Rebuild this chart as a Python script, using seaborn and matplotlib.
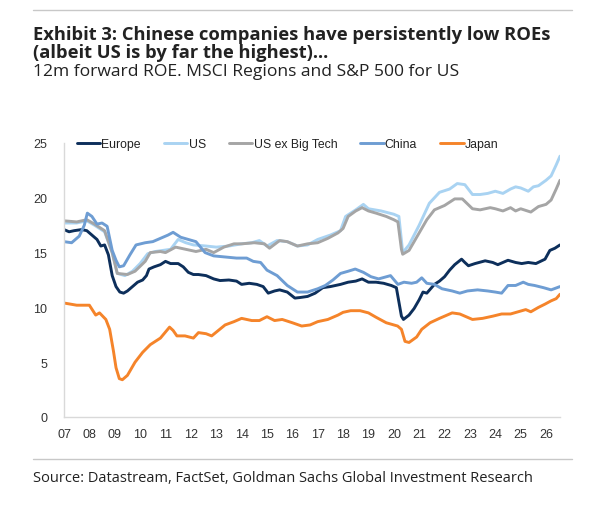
import pandas as pd
import seaborn as sns
import matplotlib.pyplot as plt

# series: (year, ROE %)
europe_t = [2007.0, 2007.2, 2007.4, 2007.7, 2007.9, 2008.1, 2008.3, 2008.45, 2008.6, 2008.75, 2008.9,
            2009.05, 2009.2, 2009.35, 2009.5, 2009.7, 2009.9, 2010.1, 2010.25, 2010.35, 2010.55, 2010.8,
            2011.0, 2011.2, 2011.5, 2011.7, 2011.9, 2012.1, 2012.3, 2012.6, 2012.9, 2013.15, 2013.5,
            2013.8, 2014.0, 2014.3, 2014.6, 2014.85, 2015.05, 2015.3, 2015.5, 2015.8, 2016.1, 2016.3,
            2016.6, 2016.9, 2017.2, 2017.5, 2017.9, 2018.2, 2018.5, 2018.75, 2019.0, 2019.3, 2019.6,
            2019.9, 2020.1, 2020.2, 2020.3, 2020.38, 2020.6, 2020.8, 2021.0, 2021.15, 2021.3, 2021.6,
            2021.8, 2022.0, 2022.2, 2022.4, 2022.67, 2022.8, 2022.94, 2023.2, 2023.6, 2023.9, 2024.1,
            2024.5, 2024.8, 2025.04, 2025.3, 2025.6, 2025.96, 2026.15, 2026.35, 2026.55]
europe_v = [17.1, 16.9, 17.0, 17.1, 17.0, 16.6, 16.2, 15.6, 15.7, 14.8, 12.9,
            11.9, 11.4, 11.3, 11.5, 11.9, 12.3, 12.5, 12.9, 13.5, 13.7, 13.9,
            14.2, 14.0, 14.0, 13.7, 13.2, 13.0, 13.0, 12.9, 12.6, 12.45, 12.5,
            12.4, 12.1, 12.2, 12.1, 11.9, 11.3, 11.5, 11.6, 11.4, 10.85, 10.9,
            11.0, 11.3, 11.8, 11.9, 12.1, 12.3, 12.4, 12.6, 12.3, 12.3, 12.2,
            12.0, 11.8, 10.5, 9.2, 8.9, 9.3, 9.9, 10.7, 11.4, 11.3, 12.1,
            12.4, 12.8, 13.4, 13.9, 14.4, 14.1, 13.8, 14.0, 14.25, 14.1, 13.9,
            14.3, 14.1, 14.0, 14.1, 14.0, 14.4, 15.2, 15.4, 15.7]

us_t = [2007.0, 2007.5, 2007.9, 2008.2, 2008.6, 2008.9, 2009.1, 2009.4, 2009.7, 2010.0, 2010.3,
        2010.6, 2010.9, 2011.2, 2011.5, 2011.8, 2012.1, 2012.6, 2013.0, 2013.5, 2014.0, 2014.4,
        2014.7, 2015.0, 2015.4, 2015.8, 2016.2, 2016.6, 2017.0, 2017.5, 2017.9, 2018.1, 2018.5,
        2018.8, 2019.0, 2019.5, 2020.0, 2020.2, 2020.35, 2020.6, 2021.0, 2021.4, 2021.8, 2022.2,
        2022.5, 2022.8, 2023.1, 2023.4, 2023.7, 2024.0, 2024.3, 2024.6, 2024.8, 2025.0, 2025.3,
        2025.5, 2025.7, 2026.0, 2026.2, 2026.4, 2026.55]
us_v = [17.7, 17.7, 17.9, 17.5, 16.9, 15.0, 13.1, 12.9, 13.3, 14.0, 14.9,
        15.1, 15.2, 15.3, 16.2, 15.9, 15.7, 15.6, 15.5, 15.6, 15.8, 15.9,
        16.1, 15.6, 16.1, 16.0, 15.6, 15.7, 16.2, 16.6, 17.0, 18.3, 18.9,
        19.4, 19.0, 18.8, 18.5, 18.3, 15.0, 15.7, 17.5, 19.5, 20.5, 20.8,
        21.3, 21.2, 20.3, 20.3, 20.4, 20.6, 20.4, 20.8, 21.0, 20.9, 20.6,
        21.0, 21.1, 21.6, 22.0, 23.0, 23.8]

usx_t = [2007.0, 2007.5, 2007.9, 2008.2, 2008.6, 2008.9, 2009.1, 2009.5, 2009.8, 2010.2, 2010.4,
         2010.8, 2011.0, 2011.4, 2011.8, 2012.2, 2012.6, 2012.9, 2013.3, 2013.7, 2014.0, 2014.5,
         2014.9, 2015.1, 2015.5, 2015.8, 2016.2, 2016.6, 2017.0, 2017.4, 2017.8, 2018.0, 2018.2,
         2018.5, 2018.75, 2019.0, 2019.3, 2019.7, 2020.0, 2020.16, 2020.3, 2020.35, 2020.6, 2021.0,
         2021.3, 2021.6, 2022.0, 2022.4, 2022.7, 2023.1, 2023.4, 2023.8, 2024.0, 2024.3, 2024.6,
         2024.8, 2025.0, 2025.4, 2025.7, 2026.0, 2026.2, 2026.4, 2026.55]
usx_v = [17.9, 17.8, 18.0, 17.6, 17.0, 15.0, 13.1, 13.0, 13.3, 14.2, 15.0,
         15.1, 15.0, 15.5, 15.3, 15.1, 15.3, 15.0, 15.5, 15.8, 15.8, 15.9,
         15.8, 15.4, 16.1, 16.0, 15.6, 15.8, 15.9, 16.3, 16.8, 17.2, 18.3,
         18.8, 19.1, 18.8, 18.6, 18.3, 18.0, 17.8, 15.3, 14.85, 15.2, 16.8,
         18.0, 18.9, 19.3, 19.9, 19.9, 19.0, 18.9, 19.1, 19.0, 18.8, 19.1,
         18.8, 19.0, 18.7, 19.2, 19.4, 19.8, 20.8, 21.6]

china_t = [2007.0, 2007.3, 2007.6, 2007.8, 2007.92, 2008.1, 2008.3, 2008.5, 2008.7, 2008.9, 2009.05,
           2009.18, 2009.35, 2009.6, 2009.84, 2010.2, 2010.5, 2010.8, 2011.1, 2011.3, 2011.6, 2011.9,
           2012.2, 2012.56, 2012.9, 2013.35, 2013.8, 2014.2, 2014.46, 2014.75, 2015.0, 2015.4, 2015.8,
           2016.2, 2016.6, 2017.0, 2017.3, 2017.6, 2017.9, 2018.2, 2018.48, 2018.8, 2019.1, 2019.4,
           2019.87, 2020.16, 2020.4, 2020.7, 2020.9, 2021.1, 2021.3, 2021.6, 2021.9, 2022.3, 2022.6,
           2022.9, 2023.3, 2023.7, 2024.0, 2024.25, 2024.5, 2024.8, 2025.1, 2025.3, 2025.55, 2025.9,
           2026.2, 2026.55]
china_v = [16.0, 15.9, 16.5, 17.5, 18.6, 18.3, 17.6, 17.7, 17.4, 15.2, 14.3,
           13.7, 13.8, 14.8, 15.7, 15.9, 16.0, 16.3, 16.6, 16.85, 16.4, 16.2,
           16.0, 15.0, 14.7, 14.6, 14.5, 14.5, 14.2, 14.1, 13.4, 12.9, 12.0,
           11.4, 11.4, 11.7, 12.0, 12.5, 13.1, 13.3, 13.5, 13.2, 12.8, 12.6,
           12.9, 12.1, 12.3, 12.2, 12.3, 12.7, 12.2, 12.1, 11.7, 11.5, 11.3,
           11.5, 11.6, 11.5, 11.4, 11.3, 12.0, 12.0, 12.3, 12.1, 12.0, 11.8,
           11.6, 11.9]

japan_t = [2007.0, 2007.5, 2008.0, 2008.25, 2008.4, 2008.65, 2008.8, 2008.95, 2009.05, 2009.18, 2009.3,
           2009.5, 2009.8, 2010.1, 2010.4, 2010.8, 2011.16, 2011.3, 2011.45, 2011.77, 2012.1, 2012.3,
           2012.6, 2012.82, 2013.35, 2013.7, 2014.0, 2014.4, 2014.7, 2015.0, 2015.3, 2015.6, 2016.0,
           2016.37, 2016.7, 2017.0, 2017.4, 2017.8, 2018.0, 2018.3, 2018.67, 2019.0, 2019.3, 2019.7,
           2020.15, 2020.3, 2020.44, 2020.6, 2020.9, 2021.1, 2021.43, 2021.8, 2022.3, 2022.6, 2022.8,
           2023.1, 2023.5, 2023.9, 2024.25, 2024.6, 2024.9, 2025.2, 2025.4, 2025.7, 2025.96, 2026.2,
           2026.4, 2026.55]
japan_v = [10.4, 10.2, 10.2, 9.3, 9.5, 8.9, 8.0, 6.0, 4.5, 3.5, 3.4,
           3.8, 5.0, 5.9, 6.6, 7.2, 8.2, 7.9, 7.4, 7.4, 7.2, 7.7,
           7.6, 7.4, 8.4, 8.7, 9.0, 8.8, 8.8, 9.15, 8.8, 8.9, 8.6,
           8.3, 8.4, 8.7, 8.9, 9.3, 9.55, 9.7, 9.7, 9.5, 9.1, 8.6,
           8.3, 8.0, 6.9, 6.8, 7.3, 8.0, 8.6, 9.0, 9.5, 9.4, 9.2,
           8.9, 9.0, 9.2, 9.4, 9.4, 9.6, 9.8, 9.6, 10.0, 10.3, 10.6,
           10.8, 11.2]

names = ['Europe', 'US', 'US ex Big Tech', 'China', 'Japan']
colors = ['#0d2f5b', '#a9d3f2', '#a5a5a5', '#6e9dd3', '#f5842a']
year_ticks = list(range(2007, 2027))

frames = []
for name, t, v in zip(names, [europe_t, us_t, usx_t, china_t, japan_t],
                      [europe_v, us_v, usx_v, china_v, japan_v]):
    frames.append(pd.DataFrame({'year': t, 'roe': v, 'series': name}))
df = pd.concat(frames, ignore_index=True)

sns.set_style('white')
plt.rcParams['font.family'] = ['Liberation Sans', 'DejaVu Sans']

W, H = 594, 506
fig = plt.figure(figsize=(W / 100, H / 100), dpi=100)
ax = fig.add_axes([64 / W, 1 - 418 / H, (560 - 64) / W, (418 - 144) / H])

sns.lineplot(data=df, x='year', y='roe', hue='series', hue_order=names,
             palette=colors, linewidth=2.1, estimator=None, ax=ax)

ax.set_xlim(2007, 2026.55)
ax.set_ylim(0, 25)
ax.set_yticks([0, 5, 10, 15, 20, 25])
ax.set_xticks(year_ticks)
ax.set_xticklabels([f'{y % 100:02d}' for y in year_ticks])
ax.set_xlabel('')
ax.set_ylabel('')
for s in ['top', 'right']:
    ax.spines[s].set_visible(False)
for s in ['left', 'bottom']:
    ax.spines[s].set_color('#d9d9d9')
    ax.spines[s].set_linewidth(1.0)
ax.tick_params(axis='both', colors='#d9d9d9', labelcolor='#333333',
               labelsize=9, length=3, width=1, direction='out')
ax.tick_params(axis='y', pad=9)
ax.tick_params(axis='x', pad=5)

handles, labels = ax.get_legend_handles_labels()
ax.legend(handles, labels, ncol=5, frameon=False, loc='center left',
          bbox_to_anchor=(77 / W, 1 - 145 / H), bbox_transform=fig.transFigure,
          fontsize=8.8, handlelength=1.9, handletextpad=0.1, columnspacing=1.9,
          borderpad=0, borderaxespad=0, labelcolor='#222222')

# header / footer
ttl = dict(family=['Open Sans', 'DejaVu Sans'], color='#222222')
fig.text(33 / W, 1 - 40 / H, 'Exhibit 3: Chinese companies have persistently low ROEs',
         fontsize=13.2, fontweight='bold', va='baseline', **ttl)
fig.text(33 / W, 1 - 57.5 / H, '(albeit US is by far the highest)...',
         fontsize=13.2, fontweight='bold', va='baseline', **ttl)
fig.text(33 / W, 1 - 76 / H, '12m forward ROE. MSCI Regions and S&P 500 for US',
         fontsize=12.6, va='baseline', **ttl)
fig.text(33 / W, 1 - 482 / H,
         'Source: Datastream, FactSet, Goldman Sachs Global Investment Research',
         fontsize=10.5, va='baseline', **ttl)
fig.add_artist(plt.Line2D([33 / W, 572 / W], [1 - 11 / H, 1 - 11 / H],
                          color='#c8c8c8', linewidth=1.0))
fig.add_artist(plt.Line2D([33 / W, 572 / W], [1 - 460 / H, 1 - 460 / H],
                          color='#c8c8c8', linewidth=1.0))

fig.savefig('out.png', dpi=100, facecolor='white')
